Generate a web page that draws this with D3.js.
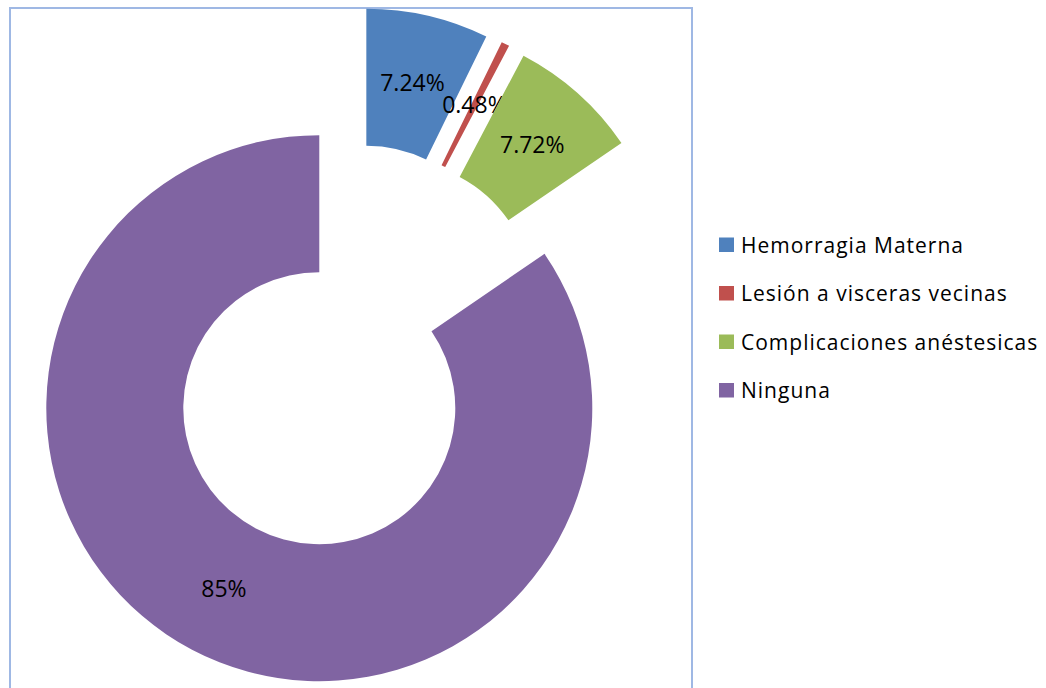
<!DOCTYPE html>
<html>
<head>
<meta charset="utf-8">
<script src="https://cdn.jsdelivr.net/npm/d3@7"></script>
<style>
  html, body { margin: 0; padding: 0; background: #fff; }
  svg { display: block; }
</style>
</head>
<body>
<div id="chart"></div>
<script>
// Complicaciones en cesárea — donut with all points exploded
const categories = ['Hemorragia Materna', 'Lesión a visceras vecinas', 'Complicaciones anéstesicas', 'Ninguna'];
const values = [7.24, 0.48, 7.72, 84.56];
const valueLabels = ['7.24%', '0.48%', '7.72%', '85%'];
const colors = ['#4F81BD', '#C0504D', '#9BBB59', '#8064A2'];

const WIDTH = 1046;
const HEIGHT = 688;
const CENTER = { x: 351, y: 348 };
const OUTER_R = 273;
const INNER_R = 136;
const EXPLODE = 68;
const FONT = '"Open Sans", Lato, sans-serif';

const svg = d3.select('#chart')
  .append('svg')
  .attr('width', WIDTH)
  .attr('height', HEIGHT);

// plot area border (bottom edge falls outside the picture)
svg.append('rect')
  .attr('x', 10)
  .attr('y', 8)
  .attr('width', 682)
  .attr('height', 700)
  .attr('fill', 'none')
  .attr('stroke', '#9FB8E4')
  .attr('stroke-width', 2);

const pie = d3.pie().sort(null).value(d => d.value);
const arcs = pie(categories.map((c, i) => ({ name: c, value: values[i], label: valueLabels[i], color: colors[i] })));

const arc = d3.arc().innerRadius(INNER_R).outerRadius(OUTER_R);
const labelArc = d3.arc().innerRadius((INNER_R + OUTER_R) / 2).outerRadius((INNER_R + OUTER_R) / 2);

const offset = d => {
  const mid = (d.startAngle + d.endAngle) / 2;
  return [CENTER.x + EXPLODE * Math.sin(mid), CENTER.y - EXPLODE * Math.cos(mid)];
};

const slices = svg.append('g')
  .selectAll('g')
  .data(arcs)
  .join('g')
  .attr('transform', d => `translate(${offset(d)})`);

slices.append('path')
  .attr('d', arc)
  .attr('fill', d => d.data.color);

slices.append('text')
  .attr('transform', d => `translate(${labelArc.centroid(d)})`)
  .attr('text-anchor', 'middle')
  .attr('dy', '0.35em')
  .attr('font-family', FONT)
  .attr('font-size', '23px')
  .attr('fill', '#000')
  .text(d => d.data.label);

const legend = svg.append('g')
  .attr('transform', 'translate(719,237.5)');

categories.forEach((c, i) => {
  const row = legend.append('g').attr('transform', `translate(0,${i * 48.5})`);
  row.append('rect')
    .attr('width', 15)
    .attr('height', 14.5)
    .attr('fill', colors[i]);
  row.append('text')
    .attr('x', 22)
    .attr('y', 15)
    .attr('font-family', FONT)
    .attr('font-size', '21px')
    .attr('letter-spacing', '1px')
    .attr('fill', '#000')
    .text(c);
});
</script>
</body>
</html>
